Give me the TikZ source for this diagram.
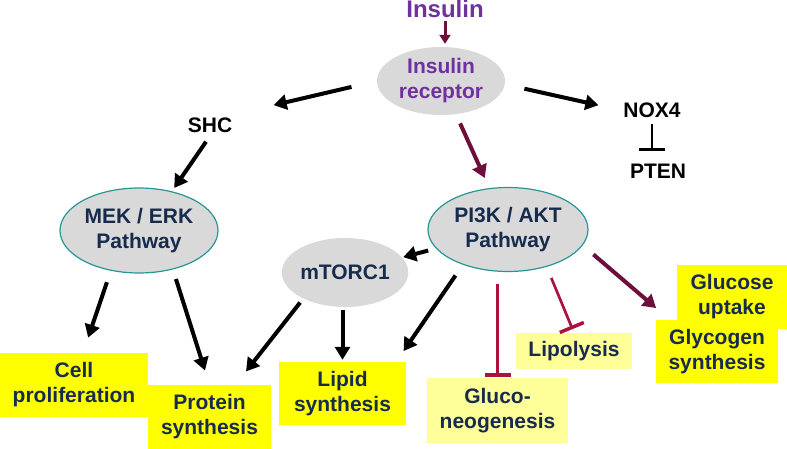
\documentclass[tikz,border=0pt]{standalone}
\usepackage{fontspec}
\setmainfont{Liberation Sans}
\usetikzlibrary{shapes.geometric,arrows.meta}
\definecolor{insulinpurple}{RGB}{112,48,160}
\definecolor{darknavy}{RGB}{23,43,77}
\definecolor{maroonarrow}{RGB}{110,14,60}
\definecolor{inhibred}{RGB}{170,20,60}
\definecolor{ovalgray}{RGB}{217,217,217}
\definecolor{tealline}{RGB}{38,150,150}
\definecolor{boxyellow}{RGB}{255,255,0}
\definecolor{paleyellow}{RGB}{255,255,153}
\begin{document}
\begin{tikzpicture}[x=1pt,y=-1pt,
	every node/.style={font=\fontsize{21}{25}\selectfont\bfseries,align=center,text=darknavy},
	oval/.style={ellipse,fill=ovalgray,inner sep=0pt},
	pathway/.style={oval,draw=tealline,line width=1.2pt},
	outbox/.style={fill=boxyellow,inner sep=0pt},
	palebox/.style={outbox,fill=paleyellow},
	arr/.style={line width=4pt,-{Triangle[length=13pt,width=15pt]}},
	inh/.style={line width=2.7pt,inhibred,-{Bar[width=26pt,line width=3.5pt]}}]
	\useasboundingbox (0,0) rectangle (787,449);
	\node[text=insulinpurple,font=\fontsize{24}{28}\selectfont\bfseries] (ins) at (445,9) {Insulin};
	\node[oval,minimum width=128pt,minimum height=68pt,text=insulinpurple] (rec) at (441,81) {Insulin\\receptor};
	\node[text=black] (shc) at (210,125) {SHC};
	\node[text=black] (nox) at (652,110) {NOX4};
	\node[text=black] (pten) at (658,171) {PTEN};
	\node[pathway,minimum width=158pt,minimum height=85pt] (mek) at (139,230.5) {MEK / ERK\\Pathway};
	\node[pathway,minimum width=160pt,minimum height=84pt] (pi3k) at (508,229.5) {PI3K / AKT\\Pathway};
	\node[oval,minimum width=126pt,minimum height=69pt] (mtor) at (345,272.5) {mTORC1};
	\node[outbox,minimum width=148pt,minimum height=64pt] (cell) at (74,385) {Cell\\proliferation};
	\node[outbox,minimum width=123pt,minimum height=64pt] (prot) at (209.5,417) {Protein\\synthesis};
	\node[outbox,minimum width=127pt,minimum height=63pt] (lipid) at (342.5,393.5) {Lipid\\synthesis};
	\node[palebox,minimum width=141pt,minimum height=65pt] (gluco) at (497.5,410.5) {Gluco-\\neogenesis};
	\node[palebox,minimum width=116pt,minimum height=36pt] (lipo) at (574,351) {Lipolysis};
	\node[outbox,minimum width=110pt,minimum height=64pt] (gup) at (732,297) {Glucose\\uptake};
	\node[outbox,minimum width=122pt,minimum height=63pt] (glyc) at (717,351.5) {Glycogen\\synthesis};
	\draw[maroonarrow,line width=3pt,-{Triangle[length=9pt,width=11pt]},shorten >=3pt] (ins.south) -- (ins.south |- rec.north);
	\draw[arr,shorten <=26pt,shorten >=39pt] (rec.west) -- (shc.north east);
	\draw[arr,shorten <=20pt,shorten >=22pt] (rec.-3) -- (nox.west);
	\draw[inh,black,shorten <=3pt,shorten >=9pt] (nox.south) -- (nox.south |- pten.north);
	\draw[arr,maroonarrow,shorten <=10pt,shorten >=11pt] (rec) -- (pi3k);
	\draw[arr,shorten <=7pt,shorten >=4pt] (shc.south) -- (mek.50);
	\draw[arr,shorten <=8pt,shorten >=1pt] (pi3k) -- (mtor);
	\draw[arr,shorten <=12pt,shorten >=16pt] (mek.235) -- ([xshift=9pt]cell.north);
	\draw[arr,shorten <=10pt,shorten >=15pt] (mek.-49) -- (prot.north);
	\draw[arr,shorten <=5pt,shorten >=17pt] (mtor.212) -- ([xshift=26pt]prot.north);
	\draw[arr,shorten <=3pt,shorten >=2pt] (lipid.north |- mtor.south) -- (lipid.north);
	\draw[arr,shorten <=13pt,shorten >=13pt] (pi3k.218) -- ([xshift=-10pt]lipid.north east);
	\draw[inh,shorten <=12pt,shorten >=1pt] (pi3k.south -| gluco.north) -- (gluco.north);
	\draw[inh,shorten <=12pt,shorten >=4pt] (pi3k.-44) -- (lipo.north);
	\draw[arr,maroonarrow,shorten <=14pt,shorten >=18pt] (pi3k.-12) -- ([xshift=14pt]glyc.north west);
\end{tikzpicture}
\end{document}
